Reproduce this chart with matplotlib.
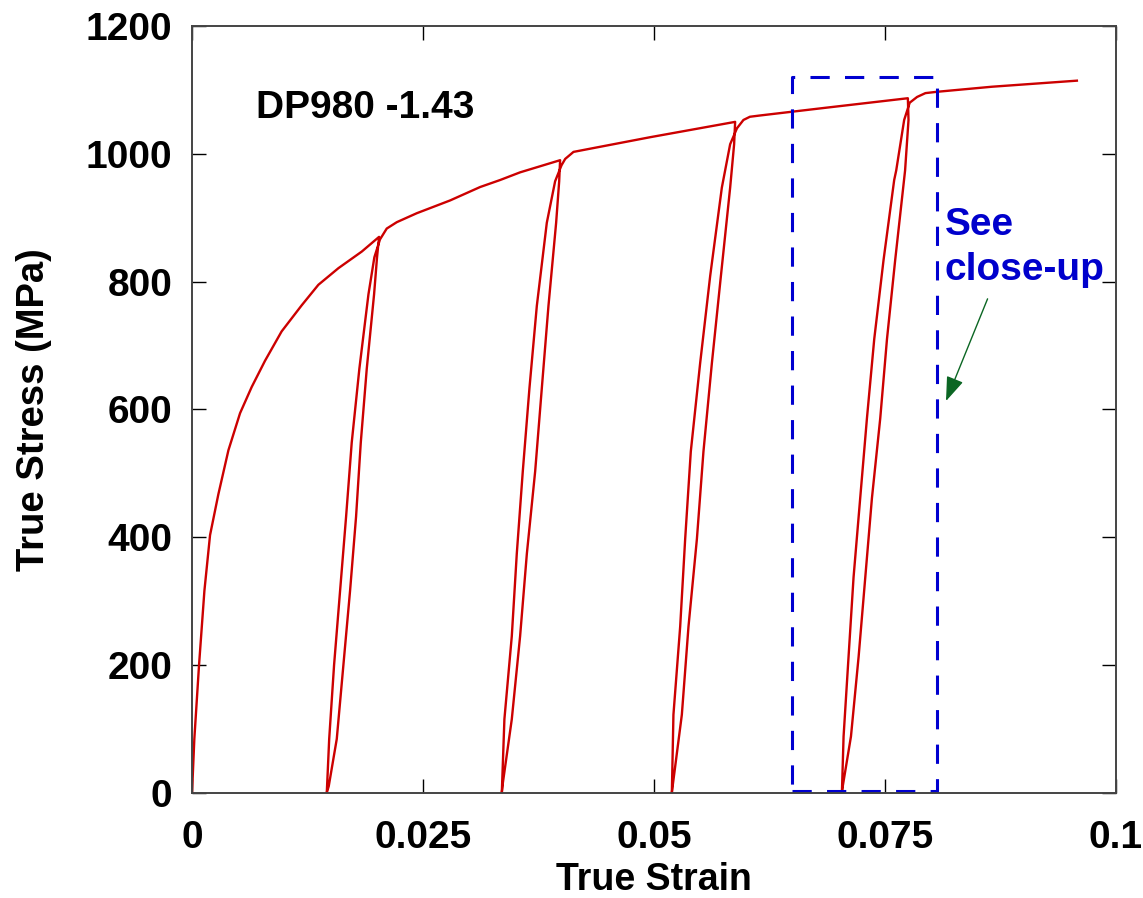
import matplotlib
matplotlib.use('Agg')
import matplotlib.pyplot as plt
import numpy as np

# -------------------------[Data]-------------------------
# initial monotonic loading up to the first unloading point
load0_strain = [0.0, 0.00025, 0.00076, 0.00134, 0.00195, 0.00285, 0.00394, 0.0052, 0.00646,
                0.0079, 0.0097, 0.01188, 0.01368, 0.01585, 0.01838, 0.02025]
load0_stress = [0, 84, 200, 316, 403, 467, 536, 594, 635, 676, 722, 763, 795, 821, 847, 870]

# cycle 1
unload1_strain = [0.02025, 0.02003, 0.01971, 0.01892, 0.01827, 0.01776, 0.01711, 0.01639, 0.01567, 0.0148, 0.01459]
unload1_stress = [870, 838, 780, 664, 548, 432, 316, 200, 84, 10, 0]
reload1_strain = [0.01459, 0.01485, 0.01538, 0.01603, 0.01668, 0.01729, 0.01812, 0.0191, 0.01974, 0.02035,
                  0.02108, 0.02217, 0.02433, 0.02794, 0.03119, 0.03336, 0.03552, 0.03985]
reload1_stress = [0, 84, 200, 316, 432, 548, 664, 780, 838, 866, 883, 893, 907, 927, 948, 959, 971, 990]

# cycle 2
unload2_strain = [0.03985, 0.03975, 0.03942, 0.03859, 0.03787, 0.03715, 0.03625, 0.03552, 0.03462, 0.03365, 0.03354]
unload2_stress = [990, 957, 892, 762, 633, 503, 374, 245, 115, 15, 0]
reload2_strain = [0.03354, 0.03382, 0.03462, 0.03516, 0.03581, 0.03653, 0.03733, 0.03841, 0.03931, 0.0400,
                  0.0404, 0.0413, 0.0431, 0.0496, 0.0588]
reload2_stress = [0, 115, 245, 374, 503, 633, 762, 892, 957, 982, 992, 1003, 1008, 1026, 1050]

# cycle 3
unload3_strain = [0.0588, 0.05869, 0.05826, 0.05726, 0.05628, 0.05537, 0.05466, 0.05375, 0.05303, 0.05205, 0.05195]
unload3_stress = [1050, 1015, 947, 809, 672, 534, 397, 260, 122, 12, 0]
reload3_strain = [0.05195, 0.05212, 0.05285, 0.05339, 0.054, 0.05501, 0.0561, 0.05736, 0.05826, 0.0590,
                  0.0597, 0.0604, 0.0615, 0.06855, 0.0775]
reload3_stress = [0, 122, 260, 397, 534, 672, 809, 947, 1015, 1040, 1053, 1058, 1060, 1072, 1087]

# cycle 4 and final loading
unload4_strain = [0.0775, 0.07757, 0.0772, 0.07613, 0.07524, 0.07451, 0.07361, 0.07289, 0.07217, 0.07134, 0.07045, 0.07036]
unload4_stress = [1087, 1053, 974, 834, 710, 586, 461, 337, 213, 88, 10, 0]
reload4_strain = [0.07036, 0.07054, 0.07108, 0.07162, 0.07234, 0.07307, 0.07386, 0.07487, 0.07602, 0.07624,
                  0.0771, 0.0777, 0.0785, 0.0794, 0.0806, 0.0866, 0.0958]
reload4_stress = [0, 88, 213, 337, 461, 586, 710, 834, 959, 974, 1053, 1080, 1089, 1095, 1097, 1105, 1114.5]

# close-up box (strain, stress corners)
box_strain = [0.065, 0.0807]
box_stress = [2, 1120]

xticks = [0, 0.025, 0.05, 0.075, 0.1]
xtick_labels = ['0', '0.025', '0.05', '0.075', '0.1']
yticks = [0, 200, 400, 600, 800, 1000, 1200]
# ----------------------------------------------------------------------------

strain = np.concatenate([load0_strain, unload1_strain, reload1_strain, unload2_strain, reload2_strain,
                         unload3_strain, reload3_strain, unload4_strain, reload4_strain])
stress = np.concatenate([load0_stress, unload1_stress, reload1_stress, unload2_stress, reload2_stress,
                         unload3_stress, reload3_stress, unload4_stress, reload4_stress])

plt.rcParams['font.family'] = ['Liberation Sans', 'DejaVu Sans']
plt.rcParams['font.weight'] = 'bold'

fig = plt.figure(figsize=(11.43, 8.98), dpi=100)
ax = fig.add_axes([0.168, 0.1173, 0.8081, 0.8537])

ax.plot(strain, stress, color='#cc0000', linewidth=1.7)

# dashed close-up box
bx = [box_strain[0], box_strain[1], box_strain[1], box_strain[0], box_strain[0]]
by = [box_stress[0], box_stress[0], box_stress[1], box_stress[1], box_stress[0]]
ax.plot(bx, by, color='#0000d0', linewidth=2.2, linestyle=(0, (6.3, 5)))

ax.text(0.00693, 1056, 'DP980 -1.43', fontsize=28, fontweight='bold', va='baseline', ha='left')
ax.text(0.08147, 873, 'See', fontsize=28, fontweight='bold', color='#0000cc', va='baseline')
ax.text(0.08147, 803, 'close-up', fontsize=28, fontweight='bold', color='#0000cc', va='baseline')
ax.annotate('', xy=(0.08163, 613), xytext=(0.08613, 773),
            arrowprops=dict(arrowstyle='-|>,head_length=0.5,head_width=0.18', color='#0b6623', lw=1.0,
                            mutation_scale=30, shrinkA=0, shrinkB=0))

ax.set_xlim(0, 0.1)
ax.set_ylim(0, 1200)
ax.set_xticks(xticks)
ax.set_xticklabels(xtick_labels)
ax.set_yticks(yticks)
ax.tick_params(direction='in', length=10, width=1.0, top=True, right=True,
               labelsize=28, color='black')
ax.tick_params(axis='x', pad=20)
ax.tick_params(axis='y', pad=14)
for lab in ax.get_xticklabels() + ax.get_yticklabels():
    lab.set_fontweight('bold')
for sp in ax.spines.values():
    sp.set_linewidth(1.4)
    sp.set_color('#444444')

ax.set_xlabel('True Strain', fontsize=27, fontweight='bold')
ax.set_ylabel('True Stress (MPa)', fontsize=27.5, fontweight='bold')
ax.xaxis.set_label_coords(0.5, -0.091)
ax.yaxis.set_label_coords(-0.152, 0.5)

fig.savefig('out.png', dpi=100)
